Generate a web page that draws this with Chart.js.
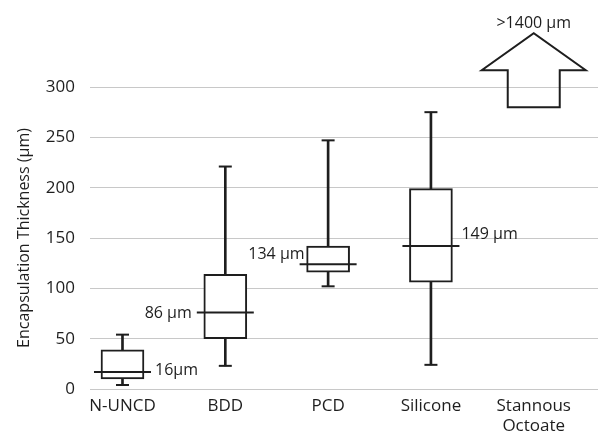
<!DOCTYPE html>
<html lang="en">
<head>
  <meta charset="UTF-8" />
  <title>Encapsulation Thickness</title>
  <style>
    html, body { margin: 0; padding: 0; background: #fff; }
    #wrap { width: 605px; height: 433px; }
  </style>
</head>
<body>
  <div id="wrap"><canvas id="chart"></canvas></div>

  <script src="https://cdn.jsdelivr.net/npm/chart.js"></script>
  <script>
    // values (µm)
    const categories = ['N-UNCD', 'BDD', 'PCD', 'Silicone', ['Stannous', 'Octoate']];
    const whiskerLow  = [4, 23, 102, 24];
    const boxLow      = [10, 50, 116, 106];
    const medians     = [17, 76, 124, 142];
    const boxHigh     = [39, 114, 142, 199];
    const whiskerHigh = [54, 221, 247, 275];
    const medianLabels = ['16µm', '86 µm', '134 µm', '149 µm'];
    const yTicks = [0, 50, 100, 150, 200, 250, 300];
    // stannous octoate is off the scale, shown with an arrow
    const offScaleIndex = 4;
    const offScaleLabel = '>1400 µm';
    const offScaleBase = 280;

    const ink = '#1e1e1e';
    const font = '"Open Sans", sans-serif';
    const BOX_W = 43;
    const MEDIAN_HALF = 28.5;

    const idx = categories.map((c, i) => i);
    const boxes = boxLow.map((v, i) => ({ x: i, y: [v, boxHigh[i]] }));
    const whiskers = whiskerLow.map((v, i) => ({ x: i, y: [v, whiskerHigh[i]] }));
    const caps = [];
    whiskerLow.forEach((v, i) => { caps.push({ x: i, y: v }, { x: i, y: whiskerHigh[i] }); });
    const medianPts = medians.map((v, i) => ({ x: i, y: v }));

    // median value labels and the off-scale arrow
    const notes = {
      id: 'notes',
      afterDatasetsDraw(chart) {
        const { ctx, scales: { x, y } } = chart;
        ctx.save();
        ctx.font = '16px ' + font;
        ctx.fillStyle = ink;
        ctx.textBaseline = 'middle';
        const place = [
          { align: 'left',  dx: MEDIAN_HALF + 4,  dy: -1 },
          { align: 'right', dx: -MEDIAN_HALF - 5, dy: 1 },
          { align: 'right', dx: -BOX_W / 2 - 2,   dy: -10 },
          { align: 'left',  dx: MEDIAN_HALF + 2,  dy: -12 }
        ];
        medianLabels.forEach((t, i) => {
          const p = place[i];
          ctx.textAlign = p.align;
          ctx.fillText(t, x.getPixelForValue(i) + p.dx, y.getPixelForValue(medians[i]) + p.dy);
        });

        const cx = x.getPixelForValue(offScaleIndex);
        const base = y.getPixelForValue(offScaleBase);
        const shoulder = base - 37, tip = base - 74;
        ctx.beginPath();
        ctx.moveTo(cx - 26, base);
        ctx.lineTo(cx - 26, shoulder);
        ctx.lineTo(cx - 52, shoulder);
        ctx.lineTo(cx, tip);
        ctx.lineTo(cx + 52, shoulder);
        ctx.lineTo(cx + 26, shoulder);
        ctx.lineTo(cx + 26, base);
        ctx.closePath();
        ctx.lineWidth = 2;
        ctx.strokeStyle = ink;
        ctx.stroke();
        ctx.textAlign = 'center';
        ctx.fillText(offScaleLabel, cx, tip - 10);
        ctx.restore();
      }
    };

    new Chart(document.getElementById('chart'), {
      type: 'bar',
      data: {
        datasets: [
          { type: 'line', data: medianPts, showLine: false, order: 1,
            pointStyle: 'line', pointRadius: MEDIAN_HALF, pointBorderWidth: 2, borderColor: ink },
          { type: 'line', data: caps, showLine: false, order: 2,
            pointStyle: 'line', pointRadius: 6.5, pointBorderWidth: 2, borderColor: ink },
          { data: boxes, order: 3, barThickness: BOX_W, grouped: false,
            backgroundColor: '#fff', borderColor: ink, borderWidth: 2, borderSkipped: false },
          { data: whiskers, order: 4, barThickness: 2, grouped: false,
            backgroundColor: ink, borderWidth: 0 }
        ]
      },
      options: {
        responsive: true,
        maintainAspectRatio: false,
        animation: false,
        events: [],
        layout: { autoPadding: false, padding: { top: 87, right: 7, bottom: 0, left: 0 } },
        plugins: { legend: { display: false }, tooltip: { enabled: false } },
        scales: {
          x: {
            type: 'linear',
            offset: false,
            min: -0.316,
            max: 4.625,
            afterBuildTicks: s => { s.ticks = idx.map(i => ({ value: i })); },
            afterFit: s => { s.height = 44; s.paddingLeft = 0; s.paddingRight = 0; },
            grid: { display: false },
            border: { display: false },
            ticks: {
              autoSkip: false,
              maxRotation: 0,
              padding: -1,
              color: ink,
              font: { family: font, size: 17, lineHeight: 1.2 },
              callback: v => categories[v]
            }
          },
          y: {
            min: 0,
            max: 300,
            afterBuildTicks: s => { s.ticks = yTicks.map(v => ({ value: v })); },
            afterFit: s => { s.width = 90; },
            grid: { color: '#c8c8c8', lineWidth: 1, drawTicks: false },
            border: { display: false },
            ticks: { padding: 15, color: ink, font: { family: font, size: 17 } },
            title: {
              display: true,
              text: 'Encapsulation Thickness (µm)',
              color: ink,
              font: { family: font, size: 16, lineHeight: 1.2 },
              padding: { top: 15, bottom: 0 }
            }
          }
        }
      },
      plugins: [notes]
    });
  </script>
</body>
</html>
